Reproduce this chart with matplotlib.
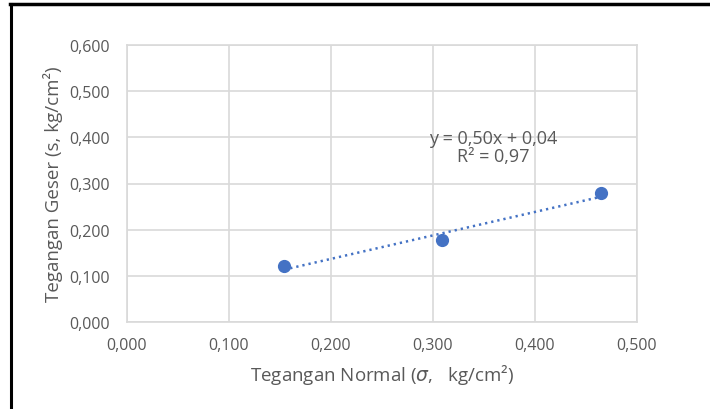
import numpy as np
import matplotlib.pyplot as plt
from matplotlib.lines import Line2D
from matplotlib.ticker import FuncFormatter

# Data (normal stress vs shear stress)
sigma = [0.154, 0.309, 0.465]
tau = [0.121, 0.177, 0.279]
xticks = [0.0, 0.1, 0.2, 0.3, 0.4, 0.5]
yticks = [0.0, 0.1, 0.2, 0.3, 0.4, 0.5, 0.6]

blue = '#4472C4'
gray = '#595959'
grid = '#D9D9D9'

plt.rcParams['font.family'] = ['Open Sans', 'DejaVu Sans']

fig = plt.figure(figsize=(7.1, 4.1), dpi=100)
ax = fig.add_axes([0.1789, 0.2122, 0.7183, 0.6756])

# trendline (linear fit)
m, c = np.polyfit(sigma, tau, 1)
xs = np.array([min(sigma), max(sigma)])
ax.plot(xs, m * xs + c, color=blue, lw=1.8, linestyle=(0, (0.9, 1.6)), zorder=3)
ax.plot(sigma, tau, 'o', color=blue, ms=8.5, zorder=4)

ax.set_xlim(0, 0.5)
ax.set_ylim(0, 0.6)
ax.set_xticks(xticks)
ax.set_yticks(yticks)
fmt = FuncFormatter(lambda v, p: f"{v:.3f}".replace('.', ','))
ax.xaxis.set_major_formatter(fmt)
ax.yaxis.set_major_formatter(fmt)
ax.tick_params(length=0, labelsize=11.5, colors=gray)
ax.tick_params(axis='y', pad=12)
ax.tick_params(axis='x', pad=11)
ax.grid(True, color=grid, lw=1.2)
ax.set_axisbelow(True)
for s in ax.spines.values():
    s.set_color(grid)
    s.set_linewidth(1.2)

ax.set_xlabel("Tegangan Normal ($\\sigma$,   kg/cm²)", fontsize=13.5, color=gray, labelpad=6)
ax.set_ylabel("Tegangan Geser (s, kg/cm²)", fontsize=13.5, color=gray, labelpad=5)

ax.text(0.359, 0.378, "y = 0,50x + 0,04\nR² = 0,97", fontsize=13, color=gray,
        ha='center', va='center', linespacing=1.0)

# screenshot frame (top and left black edges)
fig.add_artist(Line2D([10 / 710, 1], [1 - 5 / 410, 1 - 5 / 410], color='black', lw=2.5,
                      transform=fig.transFigure))
fig.add_artist(Line2D([11 / 710, 11 / 710], [0, 1 - 5 / 410], color='black', lw=2.2,
                      transform=fig.transFigure))

fig.savefig('out.png', dpi=100)
